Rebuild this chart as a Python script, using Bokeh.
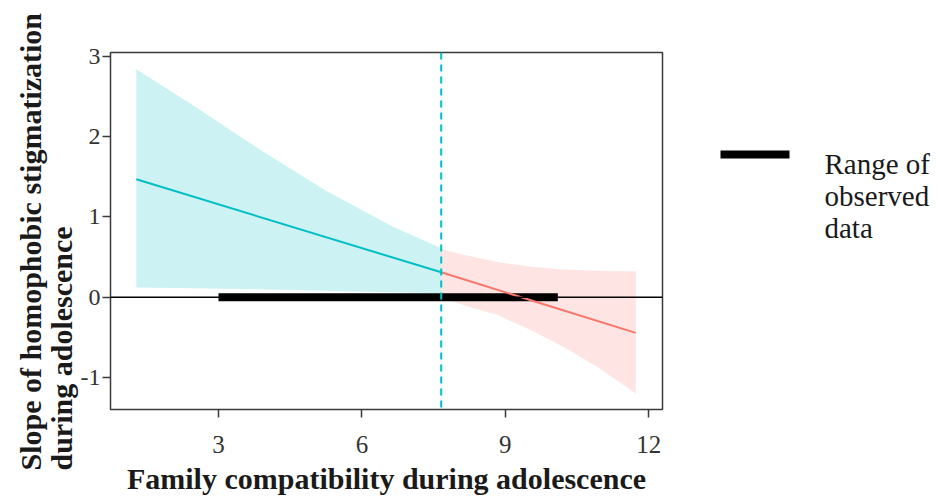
from bokeh.plotting import figure
from bokeh.layouts import row
from bokeh.models import Range1d, Span, Title, FixedTicker, PrintfTickFormatter
from bokeh.core.properties import value
from bokeh.embed import file_html
from bokeh.resources import INLINE

# ---- data ----
blue_x = [1.28, 2.45, 3.84, 5.24, 6.64, 7.66]
blue_lower = [0.12, 0.11, 0.10, 0.08, 0.06, 0.05]
blue_upper = [2.84, 2.40, 1.85, 1.33, 0.88, 0.61]
blue_line_x = [1.28, 7.66]
blue_line_y = [1.47, 0.31]

red_x = [7.66, 8.13, 8.83, 9.53, 10.22, 10.93, 11.73]
red_lower = [0.01, -0.10, -0.22, -0.41, -0.62, -0.87, -1.20]
red_upper = [0.60, 0.53, 0.44, 0.38, 0.345, 0.33, 0.32]
red_line_x = [7.66, 11.73]
red_line_y = [0.31, -0.445]

jn_point = 7.66
range_start = 3.0
range_end = 10.10

x_ticks = [3, 6, 9, 12]
y_ticks = [-1, 0, 1, 2, 3]

x_title = "Family compatibility during adolescence"
y_title_1 = "Slope of homophobic stigmatization"
y_title_2 = "during adolescence"
legend_lines = ["Range of", "observed", "data"]

TEAL = "#00BFC4"
RED = "#F8766D"
SERIF = "Liberation Serif"
DARK = "#333333"
TXT = "#1a1a1a"

# ---------------- main plot ----------------
p = figure(width=664, height=500, output_backend="svg", toolbar_location=None,
           x_range=Range1d(0.74, 12.29), y_range=Range1d(-1.40, 3.05),
           min_border_left=110, min_border_right=2,
           min_border_top=52, min_border_bottom=91)

p.xgrid.visible = False
p.ygrid.visible = False
p.outline_line_color = "#3a3a3a"
p.outline_line_width = 1.5
p.background_fill_color = "white"
p.border_fill_color = "white"

for ax in (p.xaxis[0], p.yaxis[0]):
    ax.axis_line_color = None
    ax.major_tick_out = 8
    ax.major_tick_in = 0
    ax.minor_tick_out = 0
    ax.minor_tick_in = 0
    ax.major_tick_line_color = "#3a3a3a"
    ax.major_tick_line_width = 1.5
    ax.major_label_text_font = SERIF
    ax.major_label_text_color = DARK
    ax.formatter = PrintfTickFormatter(format="%d")

p.xaxis[0].ticker = FixedTicker(ticks=x_ticks)
p.yaxis[0].ticker = FixedTicker(ticks=y_ticks)
p.xaxis[0].major_label_text_font_size = "25px"
p.yaxis[0].major_label_text_font_size = "24px"
p.xaxis[0].major_label_standoff = 18
p.yaxis[0].major_label_standoff = 2

p.xaxis[0].axis_label = x_title
p.xaxis[0].axis_label_text_font = SERIF
p.xaxis[0].axis_label_text_font_style = "bold"
p.xaxis[0].axis_label_text_font_size = "30px"
p.xaxis[0].axis_label_text_color = TXT
p.xaxis[0].axis_label_standoff = 6

# ribbons
p.varea(x=blue_x, y1=blue_lower, y2=blue_upper, fill_color=TEAL, fill_alpha=0.2)
p.varea(x=red_x, y1=red_lower, y2=red_upper, fill_color=RED, fill_alpha=0.2)

# zero line
p.add_layout(Span(location=0, dimension="width", line_color="black", line_width=1.5))

# range of observed data
p.segment(x0=[range_start], y0=[0], x1=[range_end], y1=[0],
          line_color="black", line_width=8, line_cap="butt")

# simple slope lines
p.line(blue_line_x, blue_line_y, line_color=TEAL, line_width=2)
p.line(red_line_x, red_line_y, line_color=RED, line_width=2)

# Johnson-Neyman point
p.add_layout(Span(location=jn_point, dimension="height", line_color=TEAL,
                  line_width=2, line_dash="7 5"))

# y title: two lines, both starting at the bottom
p.add_layout(Title(text=y_title_2, align="left", offset=-61, standoff=0,
                   text_font=SERIF, text_font_style="bold", text_font_size="30px",
                   text_color=TXT), "left")
p.add_layout(Title(text=y_title_1, align="left", offset=-61, standoff=-8,
                   text_font=SERIF, text_font_style="bold", text_font_size="30px",
                   text_color=TXT), "left")

# ---------------- legend panel (right) ----------------
# its frame is aligned with the main plot frame (page rows 52..409),
# so the y range is set in page pixels, top-down
lg = figure(width=273, height=500, output_backend="svg", toolbar_location=None,
            x_range=Range1d(0, 273), y_range=Range1d(409, 52),
            x_axis_type=None, y_axis_type=None, min_border=0)
lg.xgrid.visible = False
lg.ygrid.visible = False
lg.outline_line_color = None
lg.background_fill_color = "white"
lg.border_fill_color = "white"

lg.segment(x0=[56], y0=[154], x1=[125], y1=[154], line_color="black",
           line_width=8, line_cap="butt")
lg.text(x=[160, 160, 160], y=[163, 195, 227], text=legend_lines,
        text_font=value(SERIF), text_font_size="29px", text_color=TXT,
        text_align="left", text_baseline="alphabetic")

layout = row(p, lg, spacing=0)
open("out.html", "w").write(file_html(layout, INLINE))
